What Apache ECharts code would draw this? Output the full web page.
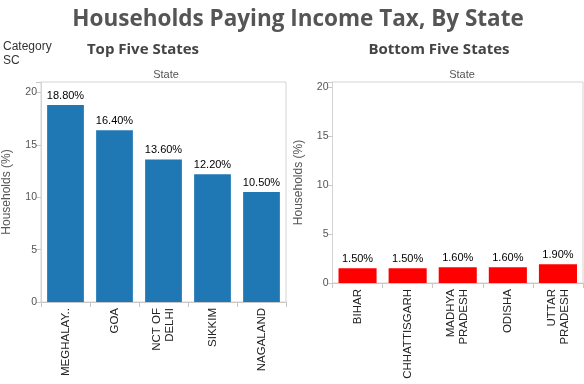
<!DOCTYPE html>
<html><head><meta charset="utf-8">
<script src="https://cdn.jsdelivr.net/npm/echarts@6/dist/echarts.min.js"></script>
<style>html,body{margin:0;padding:0;background:#fff}#c{width:584px;height:384px}</style>
</head><body><div id="c"></div>
<script>
var topStates = ['MEGHALAY..', 'GOA', 'NCT OF\nDELHI', 'SIKKIM', 'NAGALAND'];
var topValues = [18.8, 16.4, 13.6, 12.2, 10.5];
var bottomStates = ['BIHAR', 'CHHATTISGARH', 'MADHYA\nPRADESH', 'ODISHA', 'UTTAR\nPRADESH'];
var bottomValues = [1.5, 1.5, 1.6, 1.6, 1.9];
var yTicks = [0, 5, 10, 15, 20];

var chart = echarts.init(document.getElementById('c'), null, {renderer: 'canvas'});
var fontF = '"Liberation Sans", Arial, sans-serif';
function xAx(idx, cats) {
  return {
    type: 'category', gridIndex: idx, data: cats,
    axisLine: {lineStyle: {color: '#c8c8c8'}},
    axisTick: {show: true, length: 5, lineStyle: {color: '#c8c8c8'}},
    axisLabel: {rotate: 90, fontSize: 11.5, color: '#222', fontFamily: fontF, lineHeight: 13, margin: 6, interval: 0}
  };
}
function yAx(idx, max) {
  return {
    type: 'value', gridIndex: idx, min: 0, max: max, interval: 5,
    name: 'Households (%)', nameLocation: 'middle', nameGap: 28,
    nameTextStyle: {fontSize: 12, color: '#555', fontFamily: fontF},
    axisLine: {show: true, lineStyle: {color: '#d4d4d4'}},
    axisTick: {show: true, length: 5, lineStyle: {color: '#c8c8c8'}},
    axisLabel: {fontSize: 10.5, color: '#555', fontFamily: fontF, margin: 4,
      formatter: function (v) { return yTicks.indexOf(v) >= 0 ? String(v) : ''; }},
    splitLine: {show: false}
  };
}
function lbl() {
  return {show: true, position: 'top', distance: 4, fontSize: 11, color: '#000', fontFamily: fontF,
    formatter: function (p) { return p.value.toFixed(2) + '%'; }};
}
chart.setOption({
  animation: false,
  title: [
    {text: 'Households Paying Income Tax, By State', left: 293, textAlign: 'center', top: 3,
      textStyle: {fontSize: 22.5, fontWeight: 'bold', color: '#555', fontFamily: '"Open Sans", sans-serif'}},
    {text: 'Top Five States', left: 138, textAlign: 'center', top: 37,
      textStyle: {fontSize: 15, fontWeight: 'bold', color: '#444', fontFamily: '"Open Sans", sans-serif'}},
    {text: 'Bottom Five States', left: 434, textAlign: 'center', top: 37,
      textStyle: {fontSize: 15, fontWeight: 'bold', color: '#444', fontFamily: '"Open Sans", sans-serif'}},
    {text: 'State', left: 161, textAlign: 'center', top: 64,
      textStyle: {fontSize: 11, fontWeight: 'normal', color: '#555', fontFamily: fontF}},
    {text: 'State', left: 457, textAlign: 'center', top: 64,
      textStyle: {fontSize: 11, fontWeight: 'normal', color: '#555', fontFamily: fontF}},
    {text: 'Category\nSC', left: -2, top: 35,
      textStyle: {fontSize: 12, fontWeight: 'normal', color: '#333', lineHeight: 14, fontFamily: fontF}}
  ],
  grid: [
    {left: 39, top: 82, width: 247, height: 220, show: true, borderColor: '#d4d4d4', borderWidth: 1, containLabel: false},
    {left: 332.5, top: 82, width: 250.5, height: 201, show: true, borderColor: '#d4d4d4', borderWidth: 1, containLabel: false}
  ],
  xAxis: [xAx(0, topStates), xAx(1, bottomStates)],
  yAxis: [yAx(0, 21), yAx(1, 20.5)],
  series: [
    {type: 'bar', xAxisIndex: 0, yAxisIndex: 0, data: topValues, barCategoryGap: '25%',
      itemStyle: {color: '#1F77B4'}, label: lbl()},
    {type: 'bar', xAxisIndex: 1, yAxisIndex: 1, data: bottomValues, barCategoryGap: '24%',
      itemStyle: {color: '#FF0000'}, label: lbl()}
  ]
});
</script></body></html>
